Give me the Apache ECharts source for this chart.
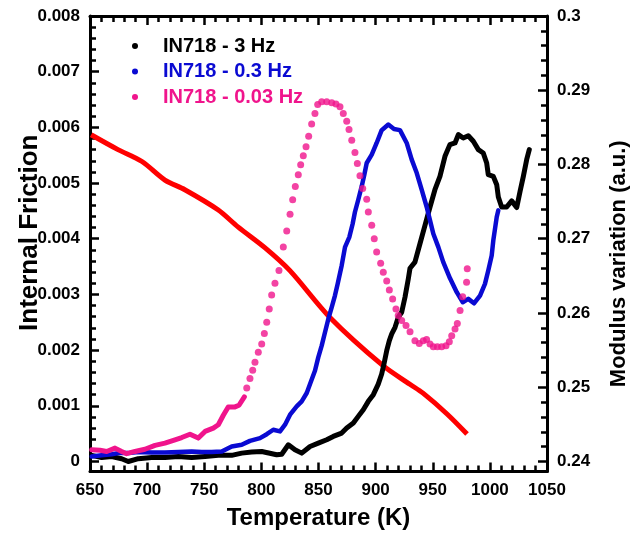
<!DOCTYPE html>
<html>
<head>
<meta charset="utf-8">
<script src="https://cdn.jsdelivr.net/npm/echarts@6/dist/echarts.min.js"></script>
<style>html,body{margin:0;padding:0;background:#fff}#c{width:630px;height:535px}</style>
</head>
<body>
<div id="c"></div>
<script>
// Temperature (K), Internal Friction
const black3Hz = [[651.5,0.00011],[660.2,0.00007],[669.0,0.00009],[677.7,0.00005],[683.5,0.0],[692.3,0.00005],[704.0,0.00007],[715.6,0.00007],[727.3,0.00009],[739.0,0.00007],[750.7,0.00009],[762.3,0.00011],[774.0,0.00011],[782.8,0.00015],[791.5,0.00017],[800.3,0.00018],[813.4,0.00012],[817.8,0.00013],[823.6,0.00030],[829.4,0.00021],[835.3,0.00015],[842.6,0.00027],[849.8,0.00033],[857.2,0.00039],[862.9,0.00045],[870.3,0.00051],[874.7,0.00060],[880.5,0.00069],[884.8,0.00081],[889.2,0.00093],[893.6,0.00108],[898.0,0.00120],[902.3,0.00139],[905.3,0.00157],[907.3,0.00175],[909.7,0.00199],[912.0,0.00217],[914.1,0.00229],[917.0,0.00241],[919.8,0.00259],[922.8,0.00268],[925.7,0.00295],[928.6,0.00328],[930.1,0.00347],[934.4,0.00358],[938.8,0.00391],[943.2,0.00424],[947.6,0.00457],[951.9,0.00488],[956.3,0.00512],[960.7,0.00548],[965.0,0.00569],[969.5,0.00572],[972.4,0.00587],[976.7,0.00581],[981.1,0.00585],[985.5,0.00575],[989.9,0.00560],[994.2,0.00554],[997.2,0.00536],[998.6,0.00515],[1003.0,0.00512],[1006.0,0.00497],[1007.4,0.00475],[1010.3,0.00457],[1014.7,0.00457],[1019.1,0.00468],[1023.5,0.00456],[1026.4,0.00485],[1029.3,0.00512],[1032.2,0.00542],[1034.5,0.00560]];
const blue03Hz = [[651.5,0.00009],[660.2,0.00011],[669.0,0.00013],[674.8,0.00015],[683.5,0.00015],[692.3,0.00017],[704.0,0.00016],[715.6,0.00016],[727.3,0.00017],[739.0,0.00018],[747.8,0.00017],[756.5,0.00017],[765.3,0.00018],[774.0,0.00027],[782.8,0.00030],[790.0,0.00037],[798.8,0.00042],[804.7,0.00049],[810.4,0.00057],[816.3,0.00054],[820.7,0.00066],[825.1,0.00084],[830.9,0.00099],[835.3,0.00108],[839.7,0.00123],[842.6,0.00139],[846.9,0.00163],[849.8,0.00187],[852.8,0.00208],[855.7,0.00232],[858.6,0.00256],[861.6,0.00277],[864.4,0.00298],[866.8,0.00319],[870.3,0.00352],[873.2,0.00385],[877.0,0.00403],[879.9,0.00427],[881.9,0.00448],[884.8,0.00470],[887.8,0.00494],[890.1,0.00515],[892.2,0.00536],[896.6,0.00551],[900.9,0.00572],[905.3,0.00595],[911.1,0.00605],[916.1,0.00597],[921.3,0.00595],[927.2,0.00572],[931.6,0.00542],[936.0,0.00518],[940.3,0.00488],[944.7,0.00457],[947.6,0.00433],[950.5,0.00409],[954.9,0.00385],[959.2,0.00358],[965.1,0.00329],[971.0,0.00304],[976.2,0.00286],[981.1,0.00292],[986.1,0.00284],[991.4,0.00298],[995.7,0.00319],[998.6,0.00343],[1001.6,0.00370],[1003.0,0.00397],[1004.5,0.00418],[1006.0,0.00439],[1007.4,0.00451]];
const pink003HzDense = [[651.5,0.00021],[658.8,0.00020],[664.6,0.00018],[671.9,0.00024],[677.7,0.00018],[682.1,0.00014],[689.4,0.00018],[698.1,0.00022],[706.9,0.00029],[715.6,0.00033],[724.4,0.00039],[730.3,0.00043],[737.5,0.00049],[744.8,0.00042],[750.7,0.00054],[757.9,0.00060],[762.3,0.00066],[766.7,0.00083],[771.0,0.00098],[776.9,0.00098],[780.4,0.00101],[785.1,0.00116]];
const pink003HzDots = [[787.2,0.00132],[790.0,0.00149],[792.4,0.00164],[794.4,0.00178],[797.3,0.00196],[800.3,0.00211],[802.6,0.00230],[804.7,0.00250],[806.9,0.00274],[809.0,0.00299],[811.9,0.00320],[815.4,0.00343],[819.2,0.00385],[822.2,0.00414],[825.1,0.00444],[827.4,0.00470],[829.7,0.00494],[832.3,0.00515],[834.4,0.00533],[836.7,0.00549],[839.1,0.00565],[841.4,0.00584],[844.0,0.00606],[846.9,0.00625],[849.3,0.00641],[852.8,0.00646],[857.2,0.00646],[861.6,0.00644],[865.3,0.00642],[868.8,0.00637],[871.7,0.00625],[874.7,0.00611],[876.7,0.00596],[879.1,0.00577],[881.9,0.00555],[884.0,0.00535],[886.3,0.00513],[888.7,0.00490],[892.2,0.00471],[893.6,0.00448],[896.6,0.00424],[898.8,0.00400],[900.9,0.00376],[904.4,0.00356],[906.7,0.00340],[909.7,0.00324],[912.0,0.00308],[914.9,0.00292],[917.8,0.00274],[919.8,0.00262],[922.8,0.00253],[926.6,0.00244],[930.1,0.00233],[934.4,0.00217],[938.2,0.00212],[941.7,0.00217],[944.6,0.00219],[947.6,0.00211],[950.5,0.00206],[954.0,0.00206],[957.8,0.00206],[961.6,0.00208],[964.5,0.00215],[966.6,0.00226],[969.5,0.00238],[971.5,0.00248],[973.9,0.00271],[976.2,0.00296],[979.6,0.00322],[980.2,0.00346]];
// Temperature (K), Modulus variation (a.u.)
const modulus = [[651,0.2840],[674.5,0.2820],[695.5,0.2804],[715.6,0.2779],[733,0.2766],[762,0.2739],[779.5,0.2716],[803,0.2688],[825,0.2657],[860,0.2594],[906.5,0.2529],[930,0.2504],[941.5,0.2492],[962.5,0.2464],[980,0.2437]];

// tick labels
const xTickLabels = [650, 700, 750, 800, 850, 900, 950, 1000, 1050];
const leftTickLabels = [0, 0.001, 0.002, 0.003, 0.004, 0.005, 0.006, 0.007, 0.008];
const rightTickLabels = [0.24, 0.25, 0.26, 0.27, 0.28, 0.29, 0.3];
const xRange = [650, 1050];
const leftRange = [-0.00018, 0.008];
const rightRange = [0.23865, 0.30];
const seriesNames = ['IN718 - 3 Hz', 'IN718 - 0.3 Hz', 'IN718 - 0.03 Hz'];
const colors = {black: '#000000', blue: '#0a0ad2', pink: '#f0148c', red: '#ff0000'};

// minor tick positions: 5 subdivisions between labelled ticks
function minors(majors) {
  const out = [];
  for (let i = 0; i < majors.length - 1; i++) {
    const a = majors[i], b = majors[i + 1];
    for (let k = 1; k < 5; k++) out.push(+(a + (b - a) * k / 5).toFixed(6));
  }
  return out;
}

const FONT = '"Liberation Sans", Arial, sans-serif';
const lab = {color: '#000', fontWeight: 'bold', fontSize: 17, fontFamily: FONT};
function majorAxis(pos, range, labels, showLabels, name, nameSize, nameGap, namePad) {
  return {
    type: 'value', position: pos, min: range[0], max: range[1],
    axisLine: {show: true, onZero: false, lineStyle: {color: '#000', width: 3}},
    axisTick: {show: true, inside: true, length: 9, customValues: labels, lineStyle: {color: '#000', width: 2.5}},
    minorTick: {show: false},
    splitLine: {show: false},
    axisLabel: Object.assign({show: showLabels, margin: 10, customValues: labels, formatter: v => String(+(+v).toFixed(4))}, lab),
    name: name || '', nameLocation: 'middle', nameGap: nameGap || 0, nameMoveOverlap: false,
    nameRotate: (pos === 'left' || pos === 'right') ? 90 : 0,
    nameTextStyle: {color: '#000', fontWeight: 'bold', fontSize: nameSize || 24, fontFamily: FONT, padding: namePad || 0}
  };
}
function minorAxis(pos, range, labels) {
  return {
    type: 'value', position: pos, min: range[0], max: range[1],
    axisLine: {show: false, onZero: false},
    axisTick: {show: true, inside: true, length: 6, customValues: minors(labels), lineStyle: {color: '#000', width: 2.5}},
    axisLabel: {show: false, customValues: []},
    splitLine: {show: false}
  };
}

const chart = echarts.init(document.getElementById('c'), null, {renderer: 'canvas'});
chart.setOption({
  animation: false,
  backgroundColor: '#fff',
  grid: {left: 90, right: 83, top: 16, bottom: 63.5, containLabel: false, outerBoundsMode: 'none'},
  legend: {
    orient: 'vertical', left: 127, top: 31, itemGap: 5.5,
    icon: 'circle', itemWidth: 46, itemHeight: 6,
    data: [
      {name: seriesNames[0], textStyle: {color: colors.black}},
      {name: seriesNames[1], textStyle: {color: colors.blue}},
      {name: seriesNames[2], textStyle: {color: colors.pink}}
    ],
    textStyle: {fontWeight: 'bold', fontSize: 20, fontFamily: FONT}
  },
  xAxis: [
    majorAxis('bottom', xRange, xTickLabels, true, 'Temperature (K)', 24, 34.5),
    majorAxis('top', xRange, xTickLabels, false),
    minorAxis('bottom', xRange, xTickLabels),
    minorAxis('top', xRange, xTickLabels)
  ],
  yAxis: [
    majorAxis('left', leftRange, leftTickLabels, true, 'Internal Friction', 26, 47, [0, 0, 0, 22]),
    majorAxis('right', rightRange, rightTickLabels, true, 'Modulus variation (a.u.)', 22, 60.5, [0, 40, 0, 0]),
    minorAxis('left', leftRange, leftTickLabels),
    minorAxis('right', rightRange, rightTickLabels)
  ],
  series: [
    {name: 'modulus', type: 'line', xAxisIndex: 0, yAxisIndex: 1, data: modulus, showSymbol: false, z: 2, smooth: 0.3,
     lineStyle: {color: colors.red, width: 5}, itemStyle: {color: colors.red}},
    {name: seriesNames[0], type: 'line', xAxisIndex: 0, yAxisIndex: 0, data: black3Hz, showSymbol: false, z: 3,
     lineStyle: {color: colors.black, width: 5, join: 'round', cap: 'round'}, itemStyle: {color: colors.black}},
    {name: seriesNames[1], type: 'line', xAxisIndex: 0, yAxisIndex: 0, data: blue03Hz, showSymbol: false, z: 4,
     lineStyle: {color: colors.blue, width: 4.5, join: 'round', cap: 'round'}, itemStyle: {color: colors.blue}},
    {name: seriesNames[2], type: 'line', xAxisIndex: 0, yAxisIndex: 0, data: pink003HzDense, showSymbol: false, z: 5,
     lineStyle: {color: colors.pink, width: 5, join: 'round', cap: 'round'}, itemStyle: {color: colors.pink}},
    {name: seriesNames[2], type: 'scatter', xAxisIndex: 0, yAxisIndex: 0, data: pink003HzDots, symbolSize: 7, z: 5,
     itemStyle: {color: colors.pink}}
  ]
});
</script>
</body>
</html>
